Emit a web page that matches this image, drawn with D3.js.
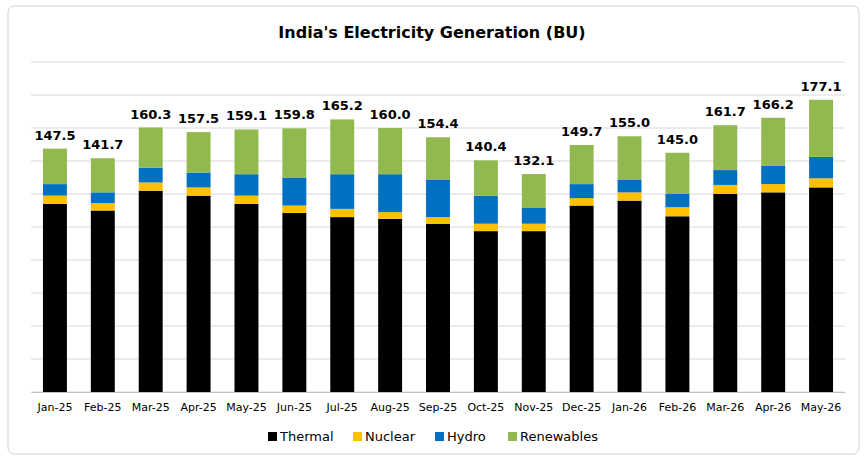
<!DOCTYPE html>
<html><head><meta charset="utf-8">
<script src="https://cdn.jsdelivr.net/npm/d3@7"></script>
<style>body{margin:0;background:#fff;font-family:Verdana,"DejaVu Sans",sans-serif}</style>
</head><body><svg id="c" width="865" height="460"></svg>
<script>
const months=["Jan-25","Feb-25","Mar-25","Apr-25","May-25","Jun-25","Jul-25","Aug-25","Sep-25","Oct-25","Nov-25","Dec-25","Jan-26","Feb-26","Mar-26","Apr-26","May-26"];
const thermal=[114,110,122,119,114,108.5,106,105,102,97.5,97.5,113,116,106.5,120,121,124];
const nuclear=[5,4.5,5,5,5,4.5,5,4,4,4.5,4.5,4.5,5,5.5,5.5,5,5.5];
const hydro=[7,6.5,9,9,13,17,21,23,22.5,17,9.5,8.5,7.5,8,9,11,13];
const totals=[147.5,141.7,160.3,157.5,159.1,159.8,165.2,160.0,154.4,140.4,132.1,149.7,155.0,145.0,161.7,166.2,177.1];
const yTicks=[0,20,40,60,80,100,120,140,160,180,200];
const names=["Thermal","Nuclear","Hydro","Renewables"];
const colors=["#000000","#ffc000","#0070c0","#92b94f"];

const svg=d3.select("#c");
svg.append("rect").attr("x",8).attr("y",6).attr("width",851).attr("height",448).attr("rx",6).attr("fill","none").attr("stroke","#d0d0d0");
const x=d3.scaleBand().domain(months).range([31,845]).paddingInner(0.5).paddingOuter(0.25);
const y=d3.scaleLinear().domain([0,200]).range([392,62]);
svg.append("g").selectAll("line").data(yTicks).join("line")
 .attr("x1",31).attr("x2",845).attr("y1",d=>y(d)).attr("y2",d=>y(d)).attr("stroke","#d9d9d9");
const rows=months.map((m,i)=>({m,v:[thermal[i],nuclear[i],hydro[i],totals[i]-thermal[i]-nuclear[i]-hydro[i]]}));
rows.forEach(r=>{let acc=0;r.v.forEach((v,k)=>{
 svg.append("rect").attr("x",x(r.m)).attr("width",x.bandwidth()).attr("y",y(acc+v)).attr("height",y(acc)-y(acc+v)).attr("fill",colors[k]);
 acc+=v;});});
svg.append("g").selectAll("text").data(rows).join("text")
 .attr("x",(d)=>x(d.m)+x.bandwidth()/2).attr("y",(d,i)=>y(totals[i])-9).attr("text-anchor","middle")
 .attr("font-size",13).attr("font-weight","bold").text((d,i)=>totals[i].toFixed(1));
const ax=svg.append("g").attr("transform","translate(0,392)").call(d3.axisBottom(x).tickSize(0).tickPadding(11));
ax.select(".domain").attr("stroke","#bfbfbf");
ax.selectAll("text").attr("font-size",11).attr("font-family","Verdana,DejaVu Sans,sans-serif").attr("fill","#000");
svg.append("text").attr("x",432).attr("y",38).attr("text-anchor","middle").attr("font-size",16).attr("font-weight","bold").text("India's Electricity Generation (BU)");
const lx=[268,353,435,508];
names.forEach((n,k)=>{
 const g=svg.append("g").attr("transform",`translate(${lx[k]},441)`);
 g.append("rect").attr("x",0).attr("y",-9).attr("width",9).attr("height",9).attr("fill",colors[k]);
 g.append("text").attr("x",12).attr("y",0).attr("font-size",13).text(n);
});
</script></body></html>
